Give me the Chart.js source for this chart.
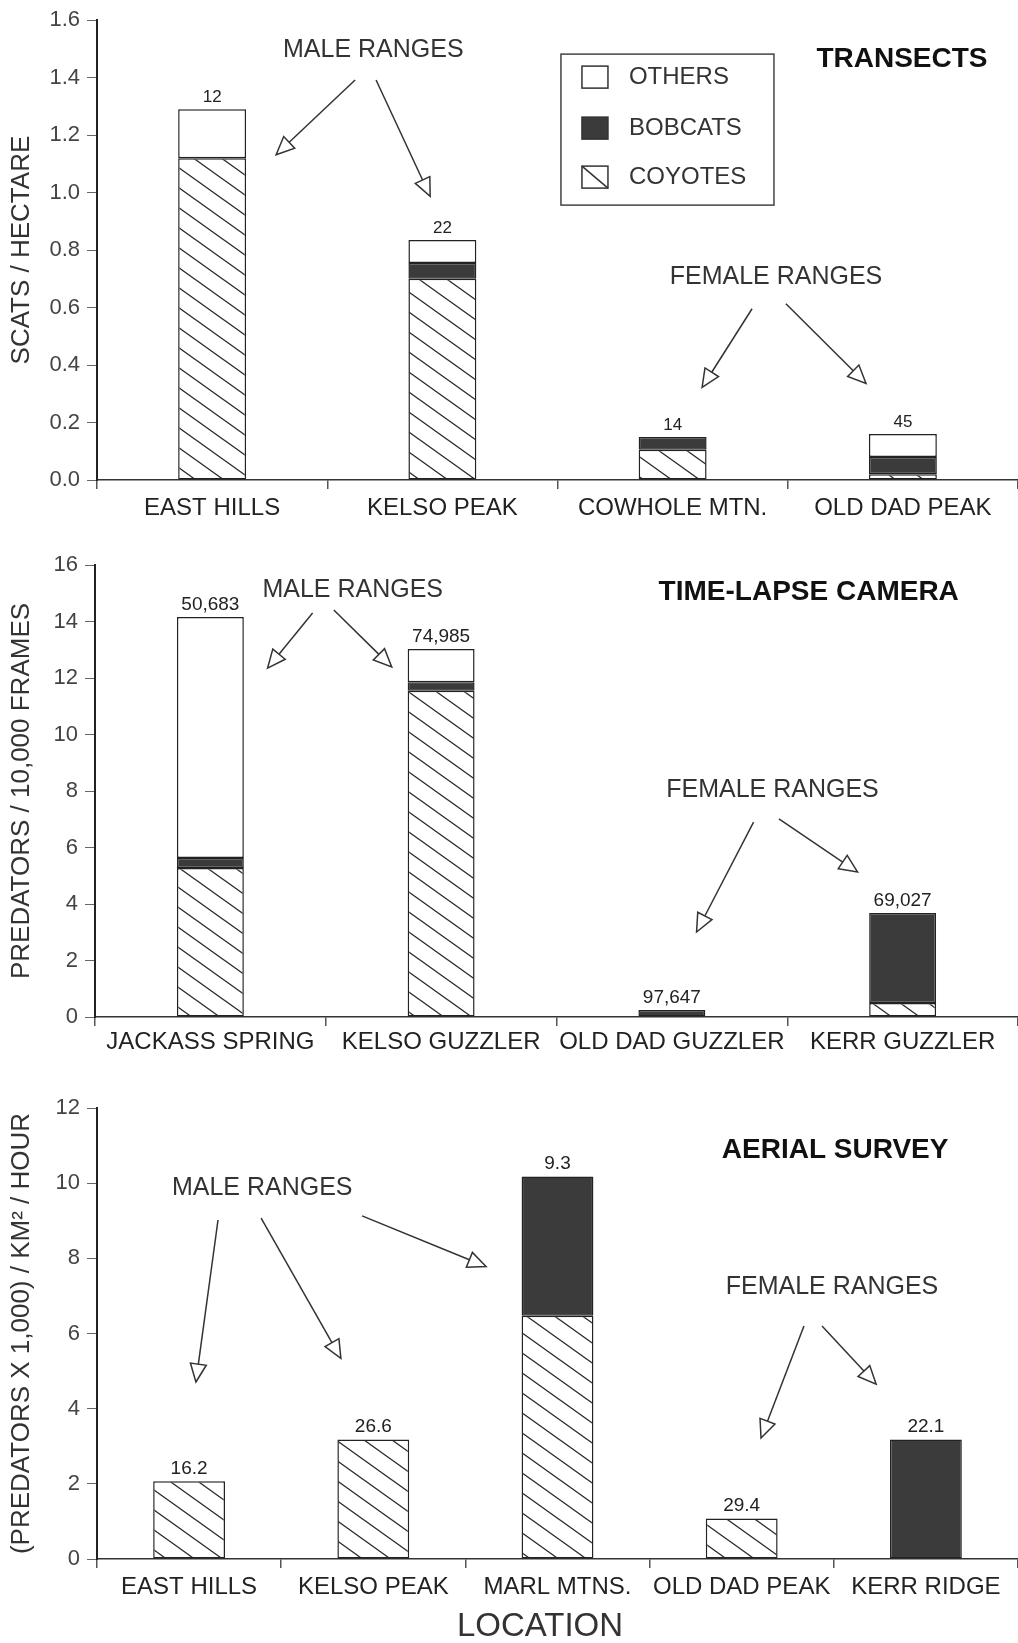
<!DOCTYPE html>
<html>
<head>
<meta charset="utf-8">
<script src="https://cdn.jsdelivr.net/npm/chart.js@4.4.1/dist/chart.umd.min.js"></script>
<style>
  body { margin: 0; background: #fff; }
  .panel { position: absolute; left: 0; width: 1018px; }
</style>
</head>
<body>
<div class="panel" style="top:0;height:540px"><canvas id="transects"></canvas></div>
<div class="panel" style="top:540px;height:540px"><canvas id="camera"></canvas></div>
<div class="panel" style="top:1080px;height:563px"><canvas id="aerial"></canvas></div>
<script>
// transects (scats / hectare)
var transectSites = ['EAST HILLS', 'KELSO PEAK', 'COWHOLE MTN.', 'OLD DAD PEAK'];
var transectCoyotes = [1.12, 0.70, 0.105, 0.02];
var transectBobcats = [null, 0.055, 0.045, 0.06];
var transectOthers = [0.17, 0.08, null, 0.08];
var transectN = ['12', '22', '14', '45'];

// time-lapse camera (predators / 10,000 frames)
var cameraSites = ['JACKASS SPRING', 'KELSO GUZZLER', 'OLD DAD GUZZLER', 'KERR GUZZLER'];
var cameraCoyotes = [5.27, 11.55, null, 0.5];
var cameraBobcats = [0.36, 0.3, 0.25, 3.18];
var cameraOthers = [8.53, 1.18, null, null];
var cameraN = ['50,683', '74,985', '97,647', '69,027'];

// aerial survey
var aerialSites = ['EAST HILLS', 'KELSO PEAK', 'MARL MTNS.', 'OLD DAD PEAK', 'KERR RIDGE'];
var aerialCoyotes = [2.07, 3.18, 6.47, 1.08, null];
var aerialBobcats = [null, null, 3.71, null, 3.18];
var aerialOthers = [null, null, null, null, null];
var aerialN = ['16.2', '26.6', '9.3', '29.4', '22.1'];

var FONT = '"Liberation Sans", Arial, Helvetica, sans-serif';
Chart.defaults.font.family = FONT;
Chart.defaults.color = '#333';

function hatchPattern() {
    var c = document.createElement('canvas');
    c.width = 28;
    c.height = 20;
    var g = c.getContext('2d');
    g.fillStyle = '#fff';
    g.fillRect(0, 0, 28, 20);
    g.strokeStyle = '#2a2a2a';
    g.lineWidth = 1.3;
    for (var k = -1; k <= 1; k++) {
        g.beginPath();
        g.moveTo(-28, -20 + 20 * k);
        g.lineTo(56, 40 + 20 * k);
        g.stroke();
    }
    return g.createPattern(c, 'repeat');
}
var hatch = hatchPattern();

function drawArrow(ctx, x1, y1, x2, y2) {
    var a = Math.atan2(y2 - y1, x2 - x1);
    var len = 18, hw = 8;
    var bx = x2 - len * Math.cos(a), by = y2 - len * Math.sin(a);
    ctx.beginPath();
    ctx.moveTo(x1, y1);
    ctx.lineTo(bx, by);
    ctx.stroke();
    ctx.beginPath();
    ctx.moveTo(x2, y2);
    ctx.lineTo(bx + hw * Math.sin(a), by - hw * Math.cos(a));
    ctx.lineTo(bx - hw * Math.sin(a), by + hw * Math.cos(a));
    ctx.closePath();
    ctx.fillStyle = '#fff';
    ctx.fill();
    ctx.stroke();
}

var notesPlugin = {
    id: 'notes',
    afterDatasetsDraw: function (chart, args, o) {
        var ctx = chart.ctx;
        var xs = chart.scales.x, ys = chart.scales.y, area = chart.chartArea;
        var datasets = chart.data.datasets;
        ctx.save();

        //counts above bars
        ctx.fillStyle = '#222';
        ctx.font = o.totalSize + 'px ' + FONT;
        ctx.textAlign = 'center';
        ctx.textBaseline = 'alphabetic';
        o.totals.forEach(function (t, i) {
            for (var d = datasets.length - 1; d >= 0; d--) {
                if (datasets[d].data[i]) {
                    var el = chart.getDatasetMeta(d).data[i];
                    ctx.fillText(t, el.x, el.y - 7);
                    break;
                }
            }
        });

        //text notes
        ctx.textBaseline = 'middle';
        o.texts.forEach(function (n) {
            ctx.font = (n.bold ? 'bold 28px ' : '25px ') + FONT;
            ctx.fillStyle = n.bold ? '#111' : '#333';
            ctx.fillText(n.text, xs.getPixelForValue(n.x), ys.getPixelForValue(n.y));
        });

        //arrows
        ctx.strokeStyle = '#333';
        ctx.lineWidth = 1.5;
        o.arrows.forEach(function (a) {
            drawArrow(ctx, xs.getPixelForValue(a[0]), ys.getPixelForValue(a[1]),
                xs.getPixelForValue(a[2]), ys.getPixelForValue(a[3]));
        });

        //axis titles
        ctx.fillStyle = '#333';
        ctx.font = '26px ' + FONT;
        ctx.save();
        ctx.translate(22, (area.top + area.bottom) / 2);
        ctx.rotate(-Math.PI / 2);
        ctx.fillText(o.yTitle, 0, 0);
        ctx.restore();
        if (o.xTitle) {
            ctx.font = '33px ' + FONT;
            ctx.fillText(o.xTitle, xs.getPixelForValue(o.xTitleAt), area.bottom + 68);
        }

        //legend box
        if (o.legendAt) {
            var lx = xs.getPixelForValue(o.legendAt[0]);
            var ly = ys.getPixelForValue(o.legendAt[1]);
            ctx.lineWidth = 1.5;
            ctx.strokeStyle = '#444';
            ctx.strokeRect(lx, ly, 213, 151);
            var rows = [23, 74, 123];
            ctx.font = '24px ' + FONT;
            ctx.textAlign = 'left';
            for (var r = 0; r < 3; r++) {
                var d = datasets[datasets.length - 1 - r];
                var sy = ly + rows[r] - 11;
                ctx.fillStyle = d.backgroundColor === hatch ? '#fff' : d.backgroundColor;
                ctx.fillRect(lx + 21, sy, 26, 22);
                ctx.strokeStyle = '#333';
                ctx.strokeRect(lx + 21, sy, 26, 22);
                if (d.backgroundColor === hatch) {
                    ctx.beginPath();
                    ctx.moveTo(lx + 21, sy);
                    ctx.lineTo(lx + 47, sy + 22);
                    ctx.stroke();
                }
                ctx.fillStyle = '#333';
                ctx.fillText(d.label, lx + 68, ly + rows[r]);
            }
        }
        ctx.restore();
    }
};

function buildChart(id, geo, labels, coyotes, bobcats, others, notes) {
    var datasets = [
        {label: 'COYOTES', data: coyotes, backgroundColor: hatch},
        {label: 'BOBCATS', data: bobcats, backgroundColor: '#3b3b3b'},
        {label: 'OTHERS', data: others, backgroundColor: '#fff'}
    ];
    datasets.forEach(function (d) {
        d.borderColor = '#222';
        d.borderWidth = 1.5;
        d.borderSkipped = false;
        d.barPercentage = geo.bar;
        d.categoryPercentage = 1;
    });
    return new Chart(document.getElementById(id), {
        type: 'bar',
        data: {labels: labels, datasets: datasets},
        options: {
            responsive: true,
            maintainAspectRatio: false,
            animation: false,
            layout: {padding: {top: geo.top, left: 0, right: 0, bottom: 0}},
            scales: {
                x: {
                    stacked: true,
                    grid: {drawOnChartArea: false, tickLength: 9, color: '#555', lineWidth: 1.5},
                    border: {color: '#333', width: 1.5},
                    ticks: {autoSkip: false, maxRotation: 0, padding: geo.tickPad, color: '#222', font: {size: 24}},
                    afterFit: function (s) { s.height = geo.height - geo.bottom; }
                },
                y: {
                    stacked: true,
                    min: 0,
                    max: geo.max,
                    ticks: {stepSize: geo.step, padding: 7, color: '#444', font: {size: 22}, callback: geo.fmt},
                    grid: {drawOnChartArea: false, tickLength: 10, color: '#666'},
                    border: {color: '#222', width: 2},
                    afterFit: function (s) { s.width = geo.left; }
                }
            },
            plugins: {
                legend: {display: false},
                tooltip: {enabled: false},
                notes: notes
            }
        },
        plugins: [notesPlugin]
    });
}

buildChart('transects',
    {top: 18, bottom: 480, height: 540, left: 97, max: 1.6, step: 0.2, bar: 0.295, tickPad: 5,
        fmt: function (v) { return v.toFixed(1); }},
    transectSites, transectCoyotes, transectBobcats, transectOthers,
    {
        yTitle: 'SCATS / HECTARE',
        totals: transectN,
        totalSize: 17,
        texts: [
            {text: 'MALE RANGES', x: 0.70, y: 1.496},
            {text: 'FEMALE RANGES', x: 2.449, y: 0.706},
            {text: 'TRANSECTS', x: 2.996, y: 1.465, bold: true}
        ],
        arrows: [
            [0.621, 1.392, 0.278, 1.132],
            [0.712, 1.392, 0.947, 0.987],
            [2.345, 0.596, 2.128, 0.322],
            [2.492, 0.613, 2.840, 0.336]
        ],
        legendAt: [1.515, 1.482]
    });

buildChart('camera',
    {top: 25, bottom: 477, height: 540, left: 95, max: 16, step: 2, bar: 0.29, tickPad: 2},
    cameraSites, cameraCoyotes, cameraBobcats, cameraOthers,
    {
        yTitle: 'PREDATORS / 10,000 FRAMES',
        totals: cameraN,
        totalSize: 19,
        texts: [
            {text: 'MALE RANGES', x: 0.617, y: 15.12},
            {text: 'FEMALE RANGES', x: 2.436, y: 8.04},
            {text: 'TIME-LAPSE CAMERA', x: 2.593, y: 15.04, bold: true}
        ],
        arrows: [
            [0.443, 14.30, 0.248, 12.35],
            [0.535, 14.41, 0.786, 12.39],
            [2.354, 6.90, 2.107, 3.01],
            [2.464, 7.01, 2.805, 5.13]
        ]
    });

buildChart('aerial',
    {top: 28, bottom: 479, height: 563, left: 97, max: 12, step: 2, bar: 0.39, tickPad: 5},
    aerialSites, aerialCoyotes, aerialBobcats, aerialOthers,
    {
        yTitle: '(PREDATORS X 1,000) / KM\u00B2 / HOUR',
        xTitle: 'LOCATION',
        xTitleAt: 1.905,
        totals: aerialN,
        totalSize: 19,
        texts: [
            {text: 'MALE RANGES', x: 0.397, y: 9.88},
            {text: 'FEMALE RANGES', x: 3.49, y: 7.24},
            {text: 'AERIAL SURVEY', x: 3.507, y: 10.88, bold: true}
        ],
        arrows: [
            [0.157, 9.02, 0.037, 4.71],
            [0.391, 9.07, 0.824, 5.34],
            [0.939, 9.13, 1.612, 7.78],
            [3.338, 6.20, 3.105, 3.22],
            [3.436, 6.20, 3.730, 4.65]
        ]
    });
</script>
</body>
</html>
